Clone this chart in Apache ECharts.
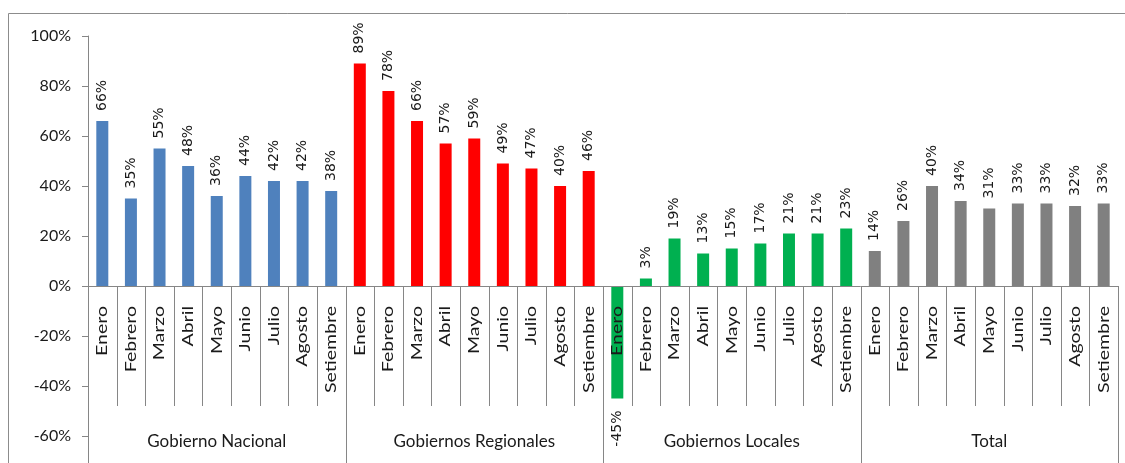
<!DOCTYPE html>
<html>
<head>
<meta charset="utf-8">
<script src="https://cdn.jsdelivr.net/npm/echarts@6/dist/echarts.min.js"></script>
<style>
html,body{margin:0;padding:0;background:#fff;}
#chart{width:1125px;height:463px;}
</style>
</head>
<body>
<div id="chart"></div>
<script>
const months = ["Enero","Febrero","Marzo","Abril","Mayo","Junio","Julio","Agosto","Setiembre"];
const groups = ["Gobierno Nacional","Gobiernos Regionales","Gobiernos Locales","Total"];
const gobiernoNacional = [66,35,55,48,36,44,42,42,38];
const gobiernosRegionales = [89,78,66,57,59,49,47,40,46];
const gobiernosLocales = [-45,3,19,13,15,17,21,21,23];
const total = [14,26,40,34,31,33,33,32,33];
const groupColors = ["#4F81BD","#FF0000","#00B050","#808080"];
const yTicks = {min:-60, max:100, interval:20};

const seriesByGroup = [gobiernoNacional, gobiernosRegionales, gobiernosLocales, total];
const categories = [];
const barData = [];
const sepData = [];
seriesByGroup.forEach((vals, g) => {
  vals.forEach((v, i) => {
    categories.push(months[i]);
    const item = {value: v, itemStyle: {color: groupColors[g]}};
    if (v < 0) {
      item.label = {position: 'bottom', align: 'right', distance: 12};
    }
    barData.push(item);
  });
});
for (let k = 0; k < categories.length; k++) {
  sepData.push([k, (k + 1) % months.length === 0 ? 1 : 0]);
}

const FONT = 'Lato, "Open Sans", sans-serif';
const LBLFONT = '"DejaVu Sans", Lato, sans-serif';
const AX = '#868686';
const TXT = '#1a1a1a';

const chart = echarts.init(document.getElementById('chart'), null, {renderer: 'canvas'});
chart.setOption({
  animation: false,
  backgroundColor: '#fff',
  textStyle: {fontFamily: FONT},
  graphic: [{
    type: 'rect',
    shape: {x: 8.5, y: 13.5, width: 1140, height: 500},
    style: {fill: 'none', stroke: '#8c8c8c', lineWidth: 1},
    silent: true, z: -10
  }],
  grid: {left: 88, right: 7, top: 36, bottom: 27, containLabel: false, outerBoundsMode: 'none'},
  xAxis: [{
    type: 'category',
    data: categories,
    z: 10,
    axisLine: {onZero: true, lineStyle: {color: AX, width: 1}},
    axisTick: {show: false},
    axisLabel: {show: false},
    splitLine: {show: false}
  }, {
    type: 'category',
    data: groups,
    position: 'bottom',
    axisLine: {show: false, onZero: false},
    axisTick: {show: false},
    axisLabel: {interval: 0, margin: -3, fontSize: 17, color: TXT, fontFamily: FONT},
    splitLine: {show: false}
  }],
  yAxis: {
    type: 'value',
    min: yTicks.min, max: yTicks.max, interval: yTicks.interval,
    axisLine: {show: true, lineStyle: {color: AX, width: 1}},
    axisTick: {show: true, length: 6, inside: false, lineStyle: {color: AX}},
    axisLabel: {formatter: '{value}%', margin: 17, fontSize: 16, color: TXT, fontFamily: FONT},
    splitLine: {show: false}
  },
  series: [{
    type: 'bar',
    xAxisIndex: 0,
    data: barData,
    barWidth: 12,
    z: 2,
    label: {
      show: true, position: 'top', rotate: 90, align: 'left', verticalAlign: 'middle',
      distance: 10, fontSize: 14, color: TXT, fontFamily: LBLFONT,
      formatter: p => p.value + '%'
    }
  }, {
    type: 'custom',
    xAxisIndex: 0,
    clip: false,
    silent: true,
    z: 5,
    data: sepData,
    renderItem: function (params, api) {
      const idx = api.value(0);
      const isGroup = api.value(1) === 1;
      const bw = api.size([1, 0])[0];
      const c0 = api.coord([idx, 0]);
      const x = Math.round(c0[0] + bw / 2) + 0.5;
      const yTop = c0[1];
      const yBot = api.coord([idx, isGroup ? -71 : -48])[1];
      const children = [{
        type: 'line',
        shape: {x1: x, y1: yTop, x2: x, y2: yBot},
        style: {stroke: AX, lineWidth: 1}
      }, {
        type: 'text',
        x: c0[0],
        y: c0[1] + 20,
        rotation: Math.PI / 2,
        scaleX: 1.3,
        style: {
          text: categories[idx],
          fontSize: 15,
          fontFamily: FONT,
          fill: TXT,
          align: 'right',
          verticalAlign: 'middle'
        }
      }];
      if (idx === 0) {
        const xl = Math.round(c0[0] - bw / 2) + 0.5;
        children.push({
          type: 'line',
          shape: {x1: xl, y1: api.coord([idx, -60])[1], x2: xl, y2: api.coord([idx, -71])[1]},
          style: {stroke: AX, lineWidth: 1}
        });
      }
      return {type: 'group', children: children};
    }
  }]
});
</script>
</body>
</html>
